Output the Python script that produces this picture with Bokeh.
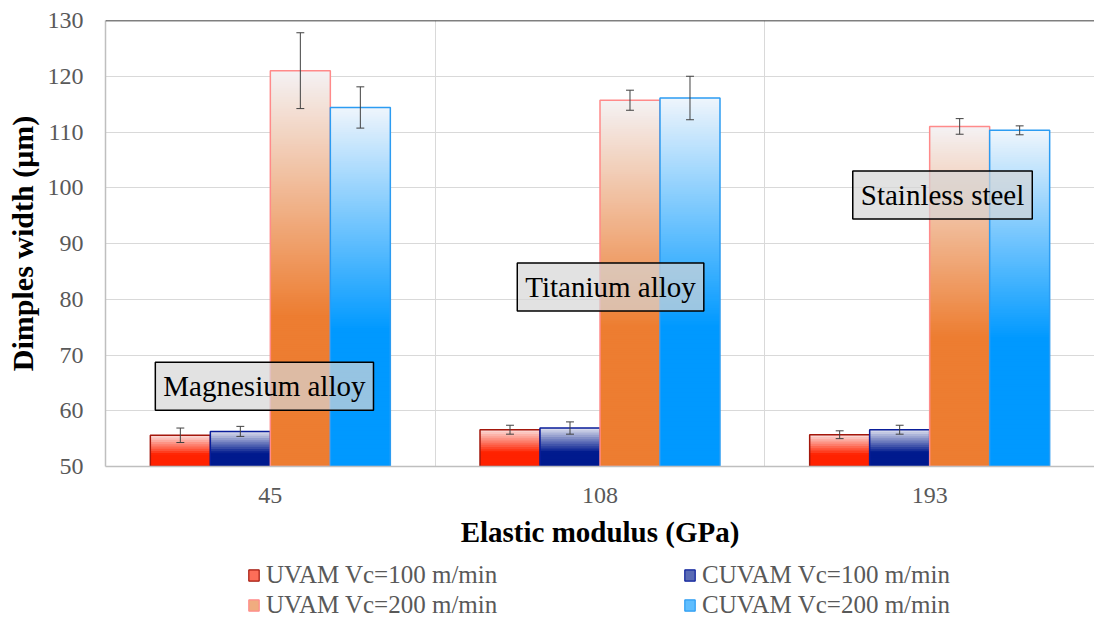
from bokeh.plotting import figure
from bokeh.layouts import column
from bokeh.models import (FactorRange, Range1d, ColumnDataSource, Legend, LegendItem,
                          Label, Span, FixedTicker)
from bokeh.transform import dodge
from bokeh.embed import file_html
from bokeh.resources import INLINE

# ---------------- data ----------------
categories = ["45", "108", "193"]
series_names = ["UVAM Vc=100 m/min", "CUVAM Vc=100 m/min",
                "UVAM Vc=200 m/min", "CUVAM Vc=200 m/min"]
uvam_100 = [55.6, 56.6, 55.7]
cuvam_100 = [56.3, 56.9, 56.6]
uvam_200 = [121.0, 115.7, 111.0]
cuvam_200 = [114.4, 116.1, 110.3]
uvam_100_err = [1.3, 0.8, 0.7]
cuvam_100_err = [0.9, 1.1, 0.8]
uvam_200_err = [6.8, 1.8, 1.4]
cuvam_200_err = [3.7, 3.9, 0.8]
materials = ["Magnesium alloy", "Titanium alloy", "Stainless steel"]
y_ticks = [50, 60, 70, 80, 90, 100, 110, 120, 130]

values = [uvam_100, cuvam_100, uvam_200, cuvam_200]
errors = [uvam_100_err, cuvam_100_err, uvam_200_err, cuvam_200_err]

# ---------------- styles ----------------
Y0, Y1 = 50, 130
offsets = [-0.273, -0.091, 0.091, 0.273]
bar_w = 0.182
full_cols = ["#FF2200", "#001A8E", "#ED7D31", "#0099FF"]
top_cols = ["#FBE0DE", "#E2E4F0", "#F4F2F4", "#EFF5FC"]
edge_cols = ["#A3170C", "#0A1E9A", "#FF8A8A", "#2C9CF2"]
FONT = "Liberation Serif"
SLICE_H = 0.4          # gradient band height in data units
FULL_AT = 0.62


def hex2rgb(h):
    h = h.lstrip("#")
    return tuple(int(h[i:i + 2], 16) for i in (0, 2, 4))


def blend(c0, c1, s):
    a, b = hex2rgb(c0), hex2rgb(c1)
    return "#%02x%02x%02x" % tuple(int(round(a[i] + (b[i] - a[i]) * s)) for i in range(3))


p = figure(width=1094, height=560, x_range=FactorRange(*categories),
           y_range=Range1d(Y0, Y1), output_backend="svg", toolbar_location=None,
           min_border_left=105, min_border_right=0, min_border_top=20,
           min_border_bottom=94)
p.outline_line_color = None
p.background_fill_color = "white"
p.border_fill_color = "white"

leg = figure(width=1094, height=63, x_range=Range1d(0, 1), y_range=Range1d(0, 1),
             output_backend="svg", toolbar_location=None, min_border=0,
             x_axis_location=None, y_axis_location=None)
leg.outline_line_color = None
leg.grid.visible = False

legend_items = []
for si in range(4):
    vals, errs = values[si], errors[si]
    cats, bots, tops, cols = [], [], [], []
    for ci, c in enumerate(categories):
        v = vals[ci]
        n = max(int(round((v - Y0) / SLICE_H)), 4)
        h = (v - Y0) / n
        for k in range(n):
            b = Y0 + h * k
            t = min(Y0 + h * (k + 2), v)
            frac_from_top = 1 - (k + 0.5) / n
            s = min(frac_from_top / FULL_AT, 1.0)
            cats.append(c)
            bots.append(b)
            tops.append(t)
            cols.append(blend(top_cols[si], full_cols[si], s))
    src = ColumnDataSource(dict(cat=cats, bottom=bots, top=tops, color=cols))
    xd = dodge("cat", offsets[si], range=p.x_range)
    p.vbar(x=xd, width=bar_w, bottom="bottom", top="top", source=src,
           fill_color="color", line_color=None)

    osrc = ColumnDataSource(dict(cat=categories, top=vals,
                                 lo=[v - e for v, e in zip(vals, errs)],
                                 hi=[v + e for v, e in zip(vals, errs)]))
    p.vbar(x=dodge("cat", offsets[si], range=p.x_range), width=bar_w, bottom=Y0,
           top="top", source=osrc, fill_color=None, line_color=edge_cols[si],
           line_width=1.5)
    # error bars
    p.segment(x0=dodge("cat", offsets[si], range=p.x_range), y0="lo",
              x1=dodge("cat", offsets[si], range=p.x_range), y1="hi",
              source=osrc, line_color="#404040", line_width=1)
    for end in ("lo", "hi"):
        p.segment(x0=dodge("cat", offsets[si] - 0.012, range=p.x_range), y0=end,
                  x1=dodge("cat", offsets[si] + 0.012, range=p.x_range), y1=end,
                  source=osrc, line_color="#404040", line_width=1)

    # legend swatch renderer (kept outside the legend strip's visible range)
    dummy = leg.vbar(x=[-5], width=0.1, top=[-5], bottom=[-6],
                     fill_color=blend(top_cols[si], full_cols[si], 0.6),
                     line_color=edge_cols[si], line_width=1.2)
    legend_items.append(LegendItem(label=series_names[si], renderers=[dummy]))

# top border line
p.add_layout(Span(location=Y1, dimension="width", line_color="black", line_width=1.6))

# grids
p.ygrid.ticker = FixedTicker(ticks=y_ticks)
p.ygrid.grid_line_color = "#D9D9D9"
p.ygrid.grid_line_width = 1
p.xgrid.ticker = FixedTicker(ticks=[1, 2])
p.xgrid.grid_line_color = "#D9D9D9"
p.xgrid.grid_line_width = 1

# axes
p.yaxis.ticker = FixedTicker(ticks=y_ticks)
for ax in (p.xaxis[0], p.yaxis[0]):
    ax.axis_line_color = "#BFBFBF"
    ax.axis_line_width = 1.5
    ax.major_tick_line_color = None
    ax.minor_tick_line_color = None
    ax.major_tick_out = 0
    ax.major_tick_in = 0
    ax.major_label_text_font = FONT
    ax.major_label_text_font_size = "24px"
    ax.major_label_text_color = "#595959"
    ax.axis_label_text_font = FONT
    ax.axis_label_text_font_style = "bold"
    ax.axis_label_text_color = "black"
p.xaxis.axis_label_text_font_size = "29px"
p.yaxis.axis_label_text_font_size = "30px"
p.yaxis.axis_label = "Dimples width (μm)"
p.xaxis.axis_label = "Elastic modulus (GPa)"
p.yaxis.major_label_standoff = 22
p.yaxis.axis_label_standoff = 6
p.xaxis.major_label_standoff = 21
p.xaxis.axis_label_standoff = 10

# annotation boxes
label_pos = [(0.482, 64.4), (1.532, 82.2), (2.539, 98.7)]
for name, (lx, ly) in zip(materials, label_pos):
    p.add_layout(Label(x=lx, y=ly, text=name, text_font=FONT, text_font_size="29px",
                       text_color="black", text_align="center", text_baseline="middle",
                       background_fill_color="#D5D5D5", background_fill_alpha=0.7,
                       border_line_color="black", border_line_width=1.5, padding=8))

legend = Legend(items=legend_items, orientation="horizontal", ncols=2,
                label_text_font=FONT, label_text_font_size="25px",
                label_text_color="#595959", glyph_width=13, glyph_height=14,
                label_standoff=6, label_width=415, label_height=24, spacing=2,
                padding=0, margin=0, border_line_color=None,
                background_fill_alpha=0, location=(142, 4))
leg.add_layout(legend, "center")

open("out.html", "w").write(file_html(column(p, leg), INLINE))
